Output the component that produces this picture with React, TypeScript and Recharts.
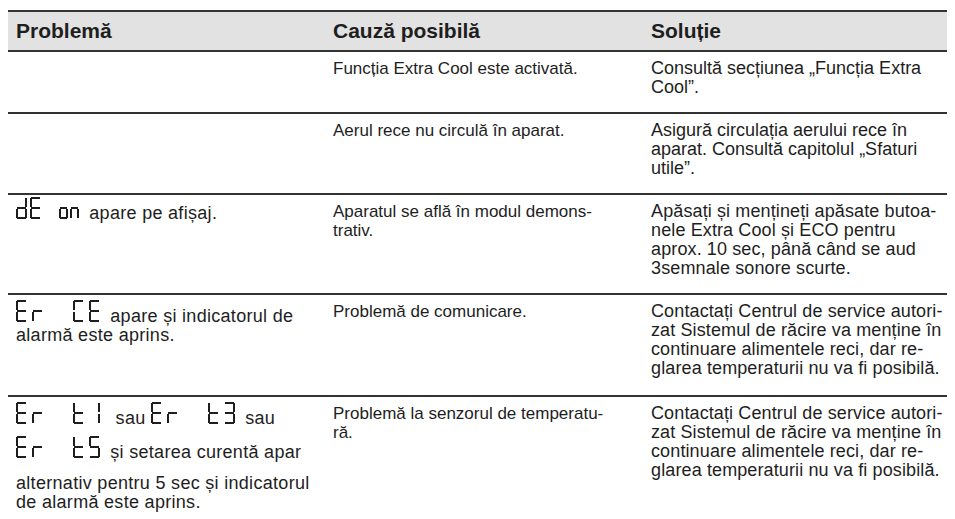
import React from 'react';
import { Surface, Polygon } from 'recharts';

// column headers
const headers = ['Problemă', 'Cauză posibilă', 'Soluție'];

// display codes shown in the "Problemă" column
type Part = string | { display: string };

const problems: Part[][][] = [
  [],
  [],
  [[{ display: 'dE on' }, ' apare pe afișaj.']],
  [[{ display: 'Er CE' }, ' apare și indicatorul de'], ['alarmă este aprins.']],
  [
    [{ display: 'Er t1' }, '  sau ', { display: 'Er t3' }, ' sau'],
    [{ display: 'Er t5' }, ' și setarea curentă apar'],
    ['alternativ pentru 5 sec și indicatorul'],
    ['de alarmă este aprins.'],
  ],
];

const causes: string[][] = [
  ['Funcția Extra Cool este activată.'],
  ['Aerul rece nu circulă în aparat.'],
  ['Aparatul se află în modul demons-', 'trativ.'],
  ['Problemă de comunicare.'],
  ['Problemă la senzorul de temperatu-', 'ră.'],
];

const solutions: string[][] = [
  ['Consultă secțiunea „Funcția Extra', 'Cool”.'],
  ['Asigură circulația aerului rece în', 'aparat. Consultă capitolul „Sfaturi', 'utile”.'],
  [
    'Apăsați și mențineți apăsate butoa-',
    'nele Extra Cool și ECO pentru',
    'aprox. 10 sec, până când se aud',
    '3semnale sonore scurte.',
  ],
  [
    'Contactați Centrul de service autori-',
    'zat Sistemul de răcire va menține în',
    'continuare alimentele reci, dar re-',
    'glarea temperaturii nu va fi posibilă.',
  ],
  [
    'Contactați Centrul de service autori-',
    'zat Sistemul de răcire va menține în',
    'continuare alimentele reci, dar re-',
    'glarea temperaturii nu va fi posibilă.',
  ],
];

// layout
const rowHeights = [60, 81, 100, 102, 124];
const glyphLineHeights = [19, 19, 28, 19, 34];
const glyphPadTop = [7, 7, 2, 5, 4];
const afterGlyph = [0, 0, 0, 0, 5];
const cols = [317, 318, 312];

// seven segment layout: which segments light up for each character
const SEGMENTS: Record<string, string> = {
  d: 'bcdeg',
  E: 'adefg',
  o: 'cdeg',
  n: 'ceg',
  r: 'eg',
  C: 'adef',
  t: 'defg',
  '1': 'bc',
  '3': 'abcdg',
  '5': 'acdfg',
};

const DH = 22;
const T = 2;
const INK = '#1e1e1e';
const FONT = '"Liberation Sans", Arial, sans-serif';

function segRect(seg: string, ox: number, w: number) {
  const h = DH / 2;
  const r = (x: number, y: number, ww: number, hh: number) => [
    { x: ox + x, y },
    { x: ox + x + ww, y },
    { x: ox + x + ww, y: y + hh },
    { x: ox + x, y: y + hh },
  ];
  switch (seg) {
    case 'a': return r(1, 0, w - 2, T);
    case 'b': return r(w - T, 1, T, h - 2);
    case 'c': return r(w - T, h + 1, T, h - 2);
    case 'd': return r(1, DH - T, w - 2, T);
    case 'e': return r(0, h + 1, T, h - 2);
    case 'f': return r(0, 1, T, h - 2);
    default: return r(1, h - T / 2, w - 2, T);
  }
}

function SevenSeg({ text }: { text: string }) {
  const narrow = text === 'dE on';
  const gap = narrow ? 15 : 25;
  const glyphs: { ch: string; x: number; w: number }[] = [];
  let x = 0;
  let end = 0;
  text.split(' ').forEach((g, gi) => {
    if (gi > 0) x += gap;
    for (const ch of g) {
      const small = ch === 'o' || ch === 'n';
      const w = small ? 9 : 11;
      glyphs.push({ ch, x, w });
      end = x + w;
      x += small ? 11 : narrow ? 14 : 16;
    }
  });
  const width = end + 1;
  return (
    <Surface width={width} height={DH} viewBox={{ x: 0, y: 0, width, height: DH }}
      style={{ display: 'inline-block', verticalAlign: 'baseline', marginRight: 4 }}>
      {glyphs.map((g, i) =>
        (SEGMENTS[g.ch] || '').split('').map((s) => (
          <Polygon key={`${i}-${s}`} points={segRect(s, g.x, g.w)} fill={INK} stroke="none" />
        ))
      )}
    </Surface>
  );
}

const cell = (w: number): React.CSSProperties => ({ width: w, padding: '0 8px', boxSizing: 'border-box' });

export default function App() {
  return (
    <div style={{ width: 947, marginTop: 2, fontFamily: FONT, color: INK, lineHeight: '19px', whiteSpace: 'pre' }}>
      <div style={{ display: 'flex', background: '#e2e2e2', borderTop: '2px solid #333', borderBottom: '2px solid #333', height: 38, alignItems: 'center' }}>
        {headers.map((h, i) => (
          <div key={h} style={{ ...cell(cols[i]), fontWeight: 'bold', fontSize: 21, lineHeight: '24px' }}>{h}</div>
        ))}
      </div>
      {causes.map((c, ri) => {
        let seenText = false;
        return (
          <div key={ri} style={{ display: 'flex', height: rowHeights[ri], boxSizing: 'border-box', borderTop: ri > 0 ? '2px solid #333' : 'none' }}>
            <div style={{ ...cell(cols[0]), paddingTop: glyphPadTop[ri], fontSize: 18, letterSpacing: 0.3 }}>
              {problems[ri].map((line, li) => {
                const hasGlyph = line.some((p) => typeof p !== 'string');
                const first = !hasGlyph && !seenText;
                if (!hasGlyph) seenText = true;
                return (
                  <div key={li} style={{
                    lineHeight: hasGlyph ? `${glyphLineHeights[ri]}px` : '19px',
                    marginTop: first && li > 0 ? afterGlyph[ri] : 0,
                  }}>
                    {line.map((p, pi) => typeof p === 'string'
                      ? <span key={pi}>{p}</span>
                      : <SevenSeg key={pi} text={p.display} />)}
                  </div>
                );
              })}
            </div>
            <div style={{ ...cell(cols[1]), paddingTop: 7, fontSize: 17 }}>
              {c.map((l) => <div key={l}>{l}</div>)}
            </div>
            <div style={{ ...cell(cols[2]), paddingTop: 7, fontSize: 18, letterSpacing: ri > 1 ? 0.12 : 0 }}>
              {solutions[ri].map((l, li) => <div key={li}>{l}</div>)}
            </div>
          </div>
        );
      })}
    </div>
  );
}
